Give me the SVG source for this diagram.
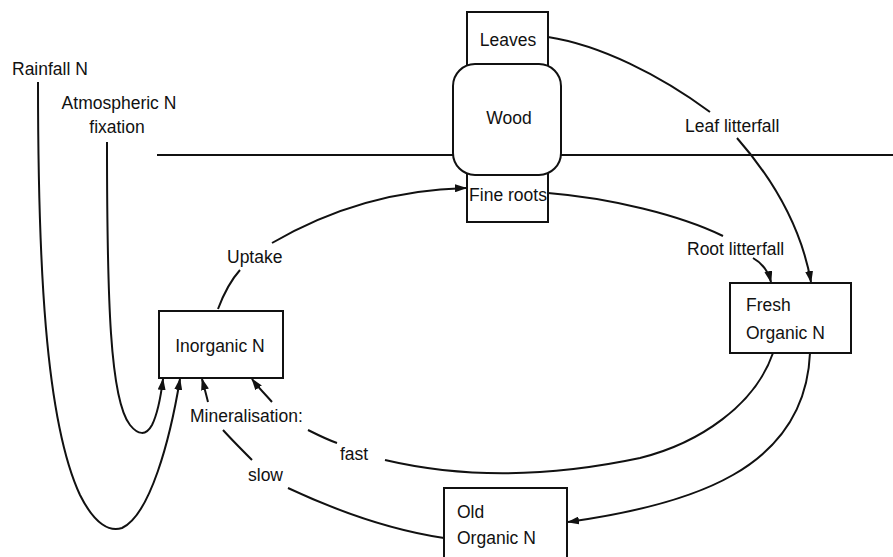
<svg xmlns="http://www.w3.org/2000/svg" width="893" height="557" viewBox="0 0 893 557">
<style>
.box{fill:#fff;stroke:#111;stroke-width:2}
.ln{fill:none;stroke:#111;stroke-width:2}
text{font-family:"Liberation Sans",Arial,sans-serif;font-size:17.5px;fill:#111}
.c{text-anchor:middle}
</style>
<defs>
<marker id="ah" markerUnits="userSpaceOnUse" markerWidth="12" markerHeight="8" refX="11" refY="4" orient="auto">
<path d="M0,0 L12,4 L0,8 z" fill="#111"/>
</marker>
</defs>
<rect width="893" height="557" fill="#fff"/>
<g id="ground"><path class="ln" d="M157,155 L893,155"/></g>
<g id="connectors">
<path class="ln" marker-end="url(#ah)" d="M38,82 C38,260 45,420 80,495 C95,525 110,532 122,528 C150,515 170,440 180,379"/>
<path class="ln" marker-end="url(#ah)" d="M107,142 C107,300 110,400 130,425 C138,435 146,436 152,425 C157,415 161,395 163,379"/>
<path class="ln" d="M218,309 C224,293 231,280 240,270"/>
<path class="ln" marker-end="url(#ah)" d="M272,243 C315,218 380,190 466,188"/>
<path class="ln" d="M548,37 C600,45 660,75 710,112"/>
<path class="ln" marker-end="url(#ah)" d="M737,138 C765,170 800,220 811,282"/>
<path class="ln" d="M548,193 C610,198 680,215 723,236"/>
<path class="ln" marker-end="url(#ah)" d="M753,258 C762,263 768,270 771,282"/>
<path class="ln" d="M385,460 C470,480 560,475 640,458 C700,443 755,405 773,353"/>
<path class="ln" d="M308,430 C318,435 328,440 337,443"/>
<path class="ln" marker-end="url(#ah)" d="M272,402 C265,394 258,387 252,379"/>
<path class="ln" marker-end="url(#ah)" d="M810,353 C805,470 690,505 568,522"/>
<path class="ln" d="M444,538 C390,530 335,510 288,488"/>
<path class="ln" d="M252,460 C242,450 232,440 223,430"/>
<path class="ln" marker-end="url(#ah)" d="M208,402 C206,394 204,386 202,379"/>
</g>
<g id="leaves"><rect class="box" x="467" y="12" width="81" height="60"/><text class="c" x="508" y="46">Leaves</text></g>
<g id="fine-roots"><rect class="box" x="467" y="165" width="81" height="57"/></g>
<g id="wood"><rect class="box" x="453" y="64" width="108" height="111" rx="22"/><text class="c" x="509" y="124">Wood</text></g>
<g id="fine-roots-label"><text class="c" x="508" y="201">Fine roots</text></g>
<g id="inorganic"><rect class="box" x="159" y="311" width="124" height="67"/><text class="c" x="220" y="352">Inorganic N</text></g>
<g id="fresh"><rect class="box" x="730" y="283" width="121" height="70"/><text x="746" y="311">Fresh</text><text x="746" y="339">Organic N</text></g>
<g id="old"><rect class="box" x="444" y="488" width="123" height="75"/><text x="457" y="518">Old</text><text x="457" y="544">Organic N</text></g>
<g id="labels">
<text x="12" y="75">Rainfall N</text>
<text class="c" x="119" y="109">Atmospheric N</text>
<text class="c" x="117" y="133">fixation</text>
<text x="227" y="263">Uptake</text>
<text x="685" y="132">Leaf litterfall</text>
<text x="687" y="255">Root litterfall</text>
<text x="190" y="422">Mineralisation:</text>
<text x="340" y="460">fast</text>
<text x="248" y="481">slow</text>
</g>
</svg>
